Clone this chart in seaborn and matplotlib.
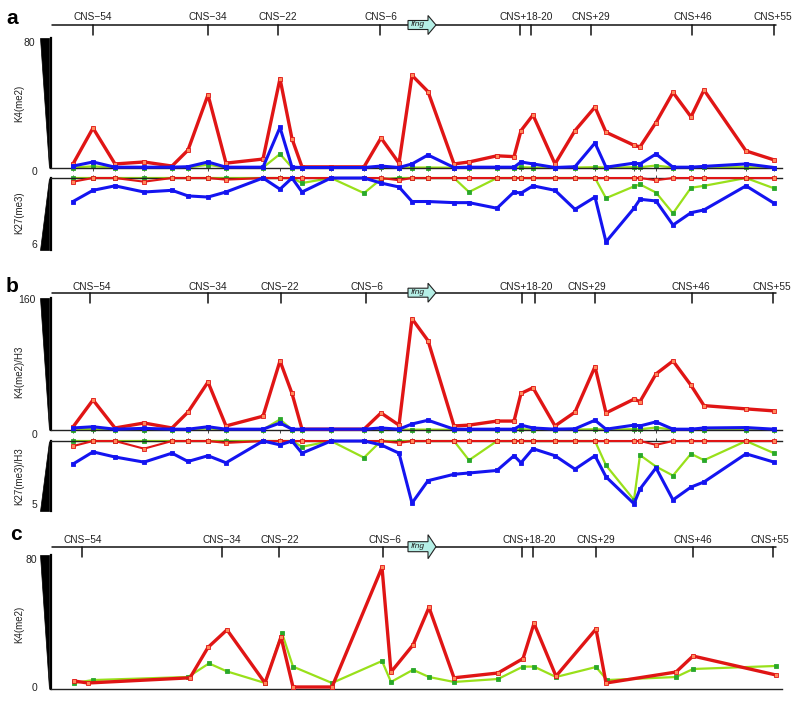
import matplotlib
matplotlib.use("Agg")
import matplotlib.pyplot as plt
import seaborn as sns
import pandas as pd
from matplotlib.patches import Polygon

sns.set_style("white")
plt.rcParams["font.family"] = ["Liberation Sans", "DejaVu Sans"]

# ---------------- data ----------------
# probe positions along the Ifng locus (track units), panels a and b
probe_pos = [73, 93, 115, 144, 172, 188, 208, 226, 263, 280, 292, 302, 331, 364, 381, 399,
             412, 428, 454, 469, 497, 514, 521, 533, 555, 575, 595, 606, 634, 640, 656, 673,
             691, 704, 746, 774]

# panel a: K4(me2) (0-80) and K27(me3) (0-6)
a_k4_red = [2.5, 24.6, 2.5, 3.7, 1.2, 11, 45, 3, 5.5, 55, 18, 0.7, 0.7, 0.7, 18.5, 3,
            57, 47, 2.5, 3.7, 7.5, 7, 23, 32.6, 2.5, 23, 37.5, 22, 14, 13, 28, 46.5,
            31.5, 48, 10.5, 5]
a_k4_blue = [1.2, 3.7, 0.5, 0.5, 0.5, 0.8, 3.7, 0.5, 0.5, 25, 0.5, 0.3, 0.3, 0.3, 1.2, 0.3,
             2.5, 8, 0.3, 0.5, 0.5, 0.5, 3.7, 2.5, 0.3, 0.8, 15.4, 0.5, 3, 2.5, 8.6, 0.5,
             0.5, 1, 2.5, 0.3]
a_k4_green = [0.3, 1, 0.3, 0.3, 0.3, 0.3, 2, 0.3, 0.3, 8.6, 0.3, 0.2, 0.2, 0.2, 0.5, 0.2,
              0.3, 0.3, 0.2, 0.2, 0.2, 0.2, 0.5, 0.3, 0.2, 0.3, 0.5, 0.3, 0.5, 0.5, 1.5, 0.3,
              0.3, 0.5, 0.5, 0.3]
a_k27_blue = [2.1, 1.1, 0.7, 1.25, 1.1, 1.6, 1.7, 1.25, 0, 1.0, 0, 1.25, 0, 0, 0.45, 0.8,
              2.1, 2.1, 2.2, 2.2, 2.7, 1.25, 1.35, 0.7, 1.1, 2.8, 1.7, 5.7, 2.7, 1.9, 2.05, 4.2,
              3.1, 2.85, 0.7, 2.25]
a_k27_green = [0, 0, 0, 0, 0, 0, 0, 0, 0, 0, 0, 0.45, 0, 1.35, 0.1, 0,
               0, 0, 0, 1.25, 0, 0, 0, 0, 0, 0, 0, 1.8, 0.75, 0.57, 1.3, 3.15,
               0.87, 0.7, 0, 0.92]
a_k27_red = [0.33, 0, 0, 0.33, 0, 0, 0, 0.15, 0, 0, 0, 0, 0, 0, 0, 0.2,
             0, 0, 0, 0, 0, 0, 0, 0, 0, 0, 0, 0, 0, 0, 0.2, 0,
             0, 0, 0, 0]

# panel b: K4(me2)/H3 (0-160) and K27(me3)/H3 (0-5)
b_k4_red = [3.7, 37, 2.5, 8.6, 2.5, 22, 59, 5, 17, 85, 45, 1, 1, 1, 21, 6,
            137, 110, 5, 6, 11, 11, 45, 52, 5, 22, 78, 21, 38, 35, 69, 85,
            55, 30, 26, 23.5]
b_k4_blue = [2.5, 4, 1, 2, 1, 1, 4, 1, 1, 8.6, 1, 1, 1, 1, 2.5, 1,
             7.4, 12, 1, 1, 1, 1, 6, 2.5, 1, 1.5, 12, 1, 6, 5, 10, 1,
             1, 2.5, 3, 1]
b_k4_green = [0.5, 1.5, 0.5, 0.5, 0.5, 0.5, 2, 0.5, 0.5, 13, 0.5, 0.3, 0.3, 0.3, 0.5, 0.3,
              0.5, 0.5, 0.3, 0.3, 0.3, 0.3, 1, 0.5, 0.3, 0.5, 1, 0.5, 1, 1, 3, 0.5,
              0.5, 0.5, 0.5, 0.5]
b_k27_blue = [1.8, 0.85, 1.25, 1.65, 0.95, 1.6, 1.15, 1.7, 0, 0.3, 0, 0.95, 0, 0, 0.3, 0.95,
              4.85, 3.1, 2.6, 2.5, 2.3, 1.15, 1.7, 0.6, 1.15, 2.2, 1.15, 2.8, 4.9, 3.75, 2.1, 4.6,
              3.6, 3.2, 1.0, 1.65]
b_k27_green = [0, 0, 0, 0, 0, 0, 0, 0, 0, 0, 0, 0.45, 0, 1.3, 0, 0,
               0, 0, 0, 1.5, 0, 0, 0, 0, 0, 0, 0, 1.9, 4.6, 1.1, 2.0, 2.7,
               1.0, 1.5, 0, 0.95]
b_k27_red = [0.4, 0, 0, 0.6, 0, 0, 0, 0.15, 0, 0, 0, 0, 0, 0, 0, 0.15,
             0, 0, 0, 0, 0, 0, 0, 0, 0, 0, 0, 0, 0, 0, 0.3, 0,
             0, 0, 0, 0]

# panel c: K4(me2) (0-80)
c_red_pos = [74, 88, 190, 208, 227, 265, 281, 293, 332, 382, 391, 413, 429, 454, 498, 523,
             534, 556, 596, 606, 676, 693, 776]
c_red = [5, 3.75, 7, 26, 37, 3.75, 32.5, 1.25, 1.25, 76, 10.6, 27.5, 51, 7, 10, 19,
         41, 8, 37.5, 3.75, 10.6, 20.6, 8.75]
c_green_pos = [74, 93, 188, 209, 227, 265, 282, 293, 332, 382, 391, 413, 429, 454, 498, 523,
               534, 556, 596, 607, 676, 693, 776]
c_green = [3.75, 5.6, 7.5, 16, 11, 3.75, 35, 14, 3.75, 17.5, 4.4, 12, 7.5, 4.4, 6.25, 14,
           14, 7.5, 13.75, 5.6, 7.5, 12.5, 14.4]

# genomic track landmarks per panel (label, label centre, tick positions)
cns_labels = ["CNS\u221254", "CNS\u221234", "CNS\u221222", "CNS\u22126", "CNS+18-20",
              "CNS+29", "CNS+46", "CNS+55"]
a_cns_label_x = [93, 208, 278, 381, 526, 591, 693, 773]
a_cns_ticks = [93, 208, 278, 380, 520, 531, 591, 692, 774]
b_cns_label_x = [92, 208, 280, 367, 526, 587, 691, 772]
b_cns_ticks = [90, 208, 281, 366, 522, 535, 595, 692, 773]
c_cns_label_x = [83, 222, 280, 385, 529, 596, 693, 770]
c_cns_ticks = [82, 222, 279, 383, 522, 533, 596, 693, 773]

# ---------------- styling ----------------
RED = "#e01515"
BLUE = "#1414f0"
LIME = "#99e01a"
DKGREEN = "#2aa82a"
W, H = 800, 701
XLIM = (51, 782)

fig = plt.figure(figsize=(8, 7.01), dpi=100)


def fx(x):
    return x / W


def fy(y):
    return 1 - y / H


def add_ax(x0, y0, x1, y1):
    return fig.add_axes([fx(x0), fy(y1), fx(x1) - fx(x0), (y1 - y0) / H])


def series(ax, pos, vals, color, lw, mfc, mec, ms, z):
    df = pd.DataFrame({"pos": pos, "value": vals})
    sns.lineplot(data=df, x="pos", y="value", ax=ax, color=color, linewidth=lw,
                 marker="s", markersize=ms, markerfacecolor=mfc, markeredgecolor=mec,
                 markeredgewidth=0.6, estimator=None, sort=False, zorder=z, clip_on=False)
    ax.set_xlabel("")
    ax.set_ylabel("")


def style_plot_ax(ax, ylim, inverted, probe_ticks=True):
    ax.set_xlim(*XLIM)
    if inverted:
        ax.set_ylim(ylim, 0)
    else:
        ax.set_ylim(0, ylim)
    for s in ax.spines.values():
        s.set_visible(False)
    ax.spines["left"].set_visible(True)
    ax.spines["left"].set_linewidth(1.6)
    ax.spines["left"].set_color("black")
    side = "top" if inverted else "bottom"
    ax.spines[side].set_visible(True)
    ax.spines[side].set_linewidth(1.0)
    ax.spines[side].set_color("#222222")
    ax.set_yticks([])
    if probe_ticks:
        ax.set_xticks(probe_pos)
        if inverted:
            ax.tick_params(axis="x", top=True, bottom=False, labeltop=False,
                           labelbottom=False, length=2, width=0.6, direction="out")
        else:
            ax.tick_params(axis="x", bottom=True, labelbottom=False, length=2,
                           width=0.6, direction="out")
    else:
        ax.set_xticks([])
    ax.set_facecolor("none")


def wedge(y_top, y_bot, pointing_down=True):
    if pointing_down:
        pts = [(40, y_top), (49, y_top), (49, y_bot)]
    else:
        pts = [(49, y_top), (49, y_bot), (40, y_bot)]
    fig.patches.append(Polygon([(fx(x), fy(y)) for x, y in pts], closed=True,
                               transform=fig.transFigure, facecolor="black",
                               edgecolor="black", lw=0.5))


def track(y_line, y_label, tick_len, label_x, ticks, arrow_half):
    ax = add_ax(XLIM[0], y_line - 20, XLIM[1], y_line + 14)
    ax.set_xlim(*XLIM)
    ax.set_ylim(y_line + 14, y_line - 20)
    ax.axis("off")
    ax.plot([52, 776], [y_line, y_line], color="#111111", lw=1.1, zorder=1)
    for t in ticks:
        ax.plot([t, t], [y_line, y_line + tick_len], color="#111111", lw=1.1)
    for lab, x in zip(cns_labels, label_x):
        ax.text(x, y_label, lab, ha="center", va="center", fontsize=7.3, color="#222222")
    hb, hh = arrow_half
    arrow = [(408, y_line - hb), (428, y_line - hb), (428, y_line - hh), (436, y_line),
             (428, y_line + hh), (428, y_line + hb), (408, y_line + hb)]
    ax.add_patch(Polygon(arrow, closed=True, facecolor="#b5efe6", edgecolor="#222222",
                         lw=0.8, zorder=3))
    ax.text(418, y_line, "Ifng", ha="center", va="center", fontsize=6, style="italic",
            color="#222222", zorder=4)


def ylabel(x, y, text):
    fig.text(fx(x), fy(y), text, rotation=90, ha="center", va="center", fontsize=7,
             color="#222222")


def ticklabel(x, y, text):
    fig.text(fx(x), fy(y), text, ha="right", va="center", fontsize=7.5, color="#222222")


def panel_letter(x, y, text):
    fig.text(fx(x), fy(y), text, ha="center", va="center", fontsize=15,
             fontweight="bold", color="black")


def draw_three(ax, red, blue, green, lw_red, lw_blue, lw_green):
    series(ax, probe_pos, green, LIME, lw_green, DKGREEN, DKGREEN, 2.6, 2)
    series(ax, probe_pos, red, RED, lw_red, "#ff8a5c", RED, 2.6, 3)
    series(ax, probe_pos, blue, BLUE, lw_blue, BLUE, BLUE, 2.6, 4)


# ---------------- panel a ----------------
panel_letter(12, 18, "a")
track(25, 17.5, 10, a_cns_label_x, a_cns_ticks, (4.5, 9.5))
ax = add_ax(51, 38, 782, 168)
style_plot_ax(ax, 80, False)
draw_three(ax, a_k4_red, a_k4_blue, a_k4_green, 2.4, 2.2, 1.6)
ax = add_ax(51, 178, 782, 250)
style_plot_ax(ax, 72 / 11.2, True)
draw_three(ax, a_k27_red, a_k27_blue, a_k27_green, 1.5, 2.2, 1.6)
wedge(38, 168, True)
wedge(178, 250, False)
ticklabel(35, 43, "80")
ticklabel(37, 172, "0")
ticklabel(37, 245, "6")
ylabel(19, 103, "K4(me2)")
ylabel(19, 213, "K27(me3)")

# ---------------- panel b ----------------
panel_letter(12, 287, "b")
track(292.7, 287, 10, b_cns_label_x, b_cns_ticks, (4.5, 9.5))
ax = add_ax(51, 298, 782, 430)
style_plot_ax(ax, 132 / 0.8125, False)
draw_three(ax, b_k4_red, b_k4_blue, b_k4_green, 2.4, 2.2, 1.6)
ax = add_ax(51, 441, 782, 511)
style_plot_ax(ax, 70 / 12.8, True)
draw_three(ax, b_k27_red, b_k27_blue, b_k27_green, 1.5, 2.2, 1.6)
wedge(298, 430, True)
wedge(441, 511, False)
ticklabel(36, 300, "160")
ticklabel(37, 435, "0")
ticklabel(37, 505, "5")
ylabel(19, 372, "K4(me2)/H3")
ylabel(19, 476, "K27(me3)/H3")

# ---------------- panel c ----------------
panel_letter(16, 534, "c")
track(546.7, 540, 10, c_cns_label_x, c_cns_ticks, (5, 12))
ax = add_ax(51, 555, 782, 689)
style_plot_ax(ax, 134 / 1.6, False, probe_ticks=False)
series(ax, c_green_pos, c_green, LIME, 1.6, DKGREEN, DKGREEN, 2.2, 2)
series(ax, c_red_pos, c_red, RED, 2.4, "#ff8a5c", RED, 2.2, 3)
wedge(555, 689, True)
ticklabel(37, 560, "80")
ticklabel(37, 688, "0")
ylabel(19, 624, "K4(me2)")

fig.savefig("out.png", dpi=100, facecolor="white")
